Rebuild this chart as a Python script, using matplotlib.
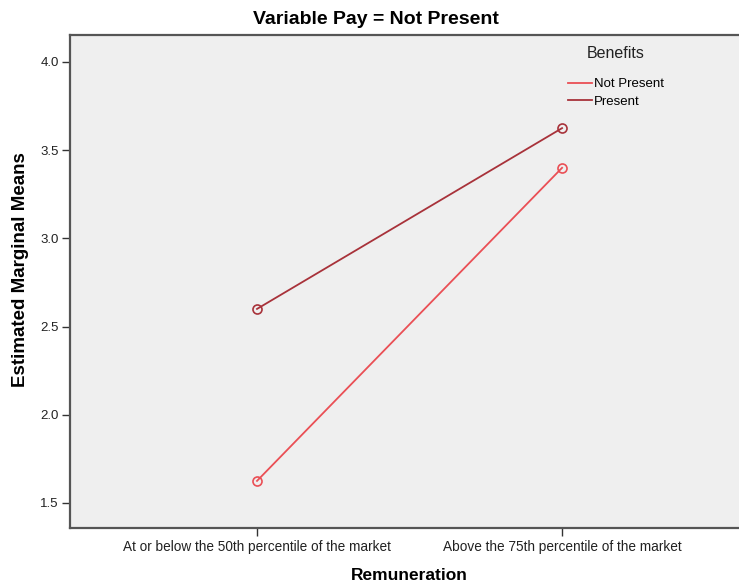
import matplotlib.pyplot as plt
from matplotlib.lines import Line2D

plt.rcParams['font.family'] = ['Liberation Sans', 'DejaVu Sans']

# data
categories = ['At or below the 50th percentile of the market',
              'Above the 75th percentile of the market']
not_present = [1.625, 3.40]
present = [2.60, 3.625]
yticks = [1.5, 2.0, 2.5, 3.0, 3.5, 4.0]
series_names = ['Not Present', 'Present']
colors = ['#ea4f55', '#a8323a']

fig = plt.figure(figsize=(7.39, 5.86), dpi=100)
ax = fig.add_axes([70 / 739, 58 / 586, 669 / 739, 493 / 586])
ax.set_facecolor('#efefef')

x = range(len(categories))
for vals, c in zip([not_present, present], colors):
    ax.plot(x, vals, color=c, lw=1.3, marker='o', ms=6.5, mfc='none', mew=1.2)

ax.set_xlim(-0.613, 1.58)
ax.set_ylim(1.358, 4.153)
ax.set_xticks(list(x))
ax.set_xticklabels(categories, fontsize=9.8, color='#222222')
ax.set_yticks(yticks)
ax.set_yticklabels([f'{v:.1f}' for v in yticks], fontsize=9.5, color='#222222')
ax.tick_params(axis='y', length=6, width=1, color='#333333', pad=2)
ax.tick_params(axis='x', length=6, width=1, color='#333333', pad=2.5)

for s in ['left', 'bottom', 'top']:
    ax.spines[s].set_color('#555555')
    ax.spines[s].set_linewidth(1.6)
ax.spines['right'].set_visible(False)

# axis titles placed in pixel terms to match the reference
fig.text(409 / 739, 1 - 576 / 586, 'Remuneration', ha='center', va='center',
         fontsize=12.5, fontweight='bold')
fig.text(21 / 739, 1 - 270 / 586, 'Estimated Marginal Means', ha='center', va='center',
         rotation=90, fontsize=13.5, fontweight='bold')

fig.text(376 / 739, 1 - 20 / 586, 'Variable Pay = Not Present', ha='center', va='center',
         fontsize=14, fontweight='bold')

# legend: title placed separately, entries below
fig.text(587 / 739, 1 - 53 / 586, 'Benefits', ha='left', va='center', fontsize=11.5, color='#222222')
handles = [Line2D([], [], color=c, lw=1.3) for c in colors]
leg = fig.legend(handles, series_names, loc='upper left',
                 bbox_to_anchor=(568 / 739, 1 - 78 / 586), frameon=False,
                 fontsize=9.5, borderpad=0, borderaxespad=0,
                 handlelength=1.8, handletextpad=0.15, labelspacing=0.4)

fig.savefig('out.png', dpi=100)
